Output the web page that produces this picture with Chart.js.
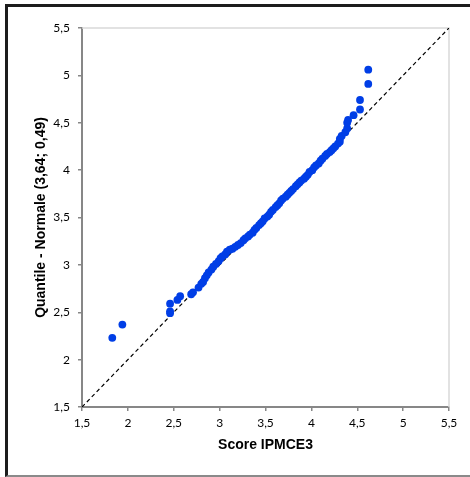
<!DOCTYPE html>
<html>
<head>
<meta charset="utf-8">
<script src="https://cdn.jsdelivr.net/npm/chart.js@4.4.1/dist/chart.umd.min.js"></script>
<style>
  body { margin: 0; background: #fff; }
  .wrap { position: relative; width: 470px; height: 477px; }
  .frame {
    position: absolute; left: 5px; top: 4px; width: 470px; height: 473px;
    box-sizing: border-box;
    border-left: 3px solid #1c1c1c;
    border-top: 3px solid #1c1c1c;
    border-bottom: 2px solid #8a8a8a;
    pointer-events: none;
  }
</style>
</head>
<body>
<div class="wrap">
  <canvas id="myChart" width="470" height="477"></canvas>
  <div class="frame"></div>
</div>
<script>
// data
var scoreValues = [
  1.83, 1.94, 2.46, 2.46, 2.46, 2.54, 2.57, 2.69, 2.71, 2.77, 2.80, 2.82, 2.84, 2.86, 2.88, 2.91, 2.93, 2.96, 2.99,
  3.01, 3.03, 3.06, 3.08, 3.11, 3.14, 3.17, 3.20, 3.23, 3.26, 3.28, 3.31, 3.33, 3.36, 3.38, 3.40, 3.43, 3.45, 3.47, 3.49,
  3.52, 3.54, 3.56, 3.58, 3.61, 3.63, 3.65, 3.67, 3.69, 3.72, 3.74, 3.76, 3.78, 3.80, 3.83, 3.85, 3.87, 3.89, 3.92, 3.94,
  3.96, 3.98, 4.01, 4.03, 4.05, 4.08, 4.10, 4.12, 4.15, 4.17, 4.20, 4.22, 4.24, 4.26, 4.29, 4.31,
  4.31, 4.33, 4.37, 4.39, 4.39, 4.40, 4.46, 4.53, 4.53, 4.62, 4.62
];
var quantileValues = [
  2.23, 2.37, 2.49, 2.51, 2.59, 2.63, 2.67, 2.69, 2.71, 2.76, 2.80, 2.82, 2.86, 2.89, 2.92, 2.95, 2.98, 3.01, 3.04,
  3.07, 3.09, 3.11, 3.14, 3.16, 3.17, 3.19, 3.21, 3.23, 3.26, 3.28, 3.30, 3.32, 3.34, 3.37, 3.39, 3.42, 3.44, 3.46, 3.49,
  3.51, 3.53, 3.56, 3.58, 3.61, 3.63, 3.65, 3.68, 3.70, 3.72, 3.74, 3.76, 3.78, 3.80, 3.83, 3.85, 3.87, 3.89, 3.91, 3.93,
  3.95, 3.98, 4.00, 4.03, 4.05, 4.07, 4.10, 4.12, 4.15, 4.17, 4.19, 4.21, 4.23, 4.25, 4.28, 4.30,
  4.33, 4.36, 4.40, 4.44, 4.50, 4.53, 4.58, 4.64, 4.74, 4.91, 5.06
];
// reference line y = x
var refLineX = [1.5, 5.5];
var refLineY = [1.5, 5.5];
var tickValues = [1.5, 2, 2.5, 3, 3.5, 4, 4.5, 5, 5.5];
var tickLabels = ['1,5', '2', '2,5', '3', '3,5', '4', '4,5', '5', '5,5'];

var points = scoreValues.map(function (v, i) { return { x: v, y: quantileValues[i] }; });
var refLine = refLineX.map(function (v, i) { return { x: v, y: refLineY[i] }; });

function tickLabel(value) {
  var i = tickValues.indexOf(Math.round(value * 10) / 10);
  return i >= 0 ? tickLabels[i] : '';
}

// light box on top / right of the plot area
const plotBox = {
  id: 'plotBox',
  beforeDatasetsDraw(chart) {
    const { ctx, chartArea: a } = chart;
    ctx.save();
    ctx.strokeStyle = '#d9d9d9';
    ctx.lineWidth = 1.5;
    ctx.beginPath();
    ctx.moveTo(a.left, a.top);
    ctx.lineTo(a.right, a.top);
    ctx.lineTo(a.right, a.bottom);
    ctx.stroke();
    ctx.restore();
  }
};

const tickFont = { family: 'Lato, "Liberation Sans", sans-serif', size: 12 };
const titleFont = { family: '"Liberation Sans", Arial, sans-serif', size: 14, weight: 'bold' };

const data = {
  datasets: [
    {
      type: 'scatter',
      data: points,
      backgroundColor: 'rgb(0, 62, 230)',
      borderWidth: 0,
      pointRadius: 3.9,
      order: 1
    },
    {
      type: 'line',
      data: refLine,
      borderColor: '#000',
      borderWidth: 1.2,
      borderDash: [4, 3],
      pointRadius: 0,
      fill: false,
      order: 2
    }
  ]
};

const config = {
  type: 'scatter',
  data: data,
  options: {
    responsive: false,
    animation: false,
    devicePixelRatio: 1,
    layout: { padding: { top: 28, right: 21, left: 0, bottom: 0 } },
    plugins: {
      legend: false,
      tooltip: { enabled: false }
    },
    scales: {
      x: {
        type: 'linear',
        min: 1.5, max: 5.5,
        afterBuildTicks: function (s) { s.ticks = tickValues.map(function (v) { return { value: v }; }); },
        afterFit: function (s) { s.height = 70; },
        ticks: { callback: tickLabel, color: '#000', font: tickFont, padding: 5, maxRotation: 0 },
        grid: { drawOnChartArea: false, tickLength: 4, color: '#878787', lineWidth: 1.5 },
        border: { color: '#878787', width: 2 },
        title: { display: true, text: 'Score IPMCE3', color: '#000', font: titleFont, padding: { top: 0, bottom: 23 } }
      },
      y: {
        type: 'linear',
        min: 1.5, max: 5.5,
        afterBuildTicks: function (s) { s.ticks = tickValues.map(function (v) { return { value: v }; }); },
        afterFit: function (s) { s.width = 82; },
        ticks: { callback: tickLabel, color: '#000', font: tickFont, padding: 8 },
        grid: { drawOnChartArea: false, tickLength: 4, color: '#878787', lineWidth: 1.5 },
        border: { color: '#878787', width: 2 },
        title: { display: true, text: 'Quantile - Normale (3,64; 0,49)', color: '#000', font: titleFont, padding: { top: 33, bottom: 0 } }
      }
    }
  },
  plugins: [plotBox]
};

const myChart = new Chart(document.getElementById('myChart'), config);
</script>
</body>
</html>
